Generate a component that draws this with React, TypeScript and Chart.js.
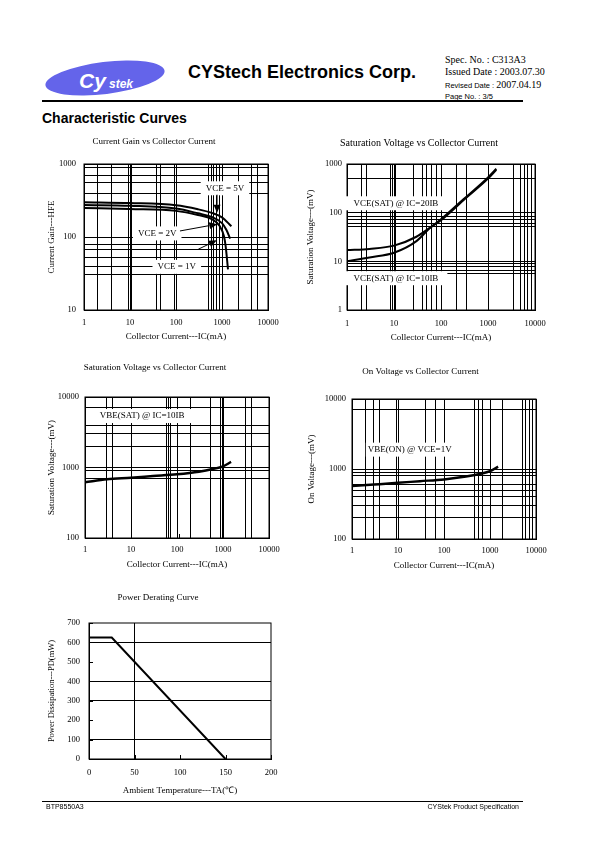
import React, { useEffect, useRef } from "react";
import { Chart, registerables } from "chart.js";

Chart.register(...registerables);

const SERIF = '"Liberation Serif", "Times New Roman", serif';
const SANS = '"Liberation Sans", Arial, sans-serif';

// ---------- Chart 1: Current gain vs collector current ----------
const gainIc5V = [1, 10, 100, 300, 600, 1000, 1600];
const gainHfe5V = [300, 292, 272, 240, 214, 186, 140];
const gainIc2V = [1, 10, 100, 300, 600, 1000, 1250, 1500];
const gainHfe2V = [275, 268, 245, 211, 188, 155, 125, 95];
const gainIc1V = [1, 10, 100, 300, 600, 900, 1100, 1200, 1350];
const gainHfe1V = [250, 242, 228, 200, 176, 140, 103, 75, 36];
const gainXTicks = [1, 10, 100, 1000, 10000];
const gainYTicks = [10, 100, 1000];
const gainXGrid = [2, 4, 9.3, 10.7, 37, 47, 95, 500, 590, 670, 770, 900, 2300, 4300, 5800];
const gainYGrid = [31, 40, 52, 68, 80, 400, 550, 700, 900];
const gainNoteText = ["VCE = 5V", "VCE = 2V", "VCE = 1V"];
const gainNoteX = [1160, 39, 104];
const gainNoteY = [465, 112, 39];
const gainArrowFromX = [780, 122, 305];
const gainArrowFromY = [380, 121, 68];
const gainArrowToX = [780, 790, 770];
const gainArrowToY = [215, 150, 90];

// ---------- Chart 2: VCE(SAT) vs collector current ----------
const vceIc = [1, 3, 10, 30, 60, 100, 300, 1000, 1500];
const vce20IB = [17, 18, 21, 32, 50, 70, 180, 500, 760];
const vce10IB = [10, 12, 15, 26, 50, 73, 188, 530, 800];
const vceXTicks = [1, 10, 100, 1000, 10000];
const vceYTicks = [1, 10, 100, 1000];
const vceXGrid = [2, 2.6, 8.5, 9.5, 11, 26, 40, 50, 63, 80, 210, 350, 3500, 5000, 6000, 7000, 8500];
const vceYGrid = [5.5, 6.5, 8, 9, 52, 60, 72, 85, 500];
const vceNoteText = ["VCE(SAT) @ IC=20IB", "VCE(SAT) @ IC=10IB"];
const vceNoteX = [11, 11];
const vceNoteY = [156, 4.5];

// ---------- Chart 3: VBE(SAT) vs collector current ----------
const vbeIc = [1, 3, 10, 30, 100, 300, 600, 1000, 1500];
const vbeSat = [620, 680, 715, 755, 800, 870, 950, 1040, 1200];
const vbeXTicks = [1, 10, 100, 1000, 10000];
const vbeYTicks = [100, 1000, 10000];
const vbeXGrid = [3, 4, 10.2, 58, 64, 72, 200, 530, 900, 980, 3100, 4200];
const vbeYGrid = [700, 910, 2000, 3000, 4000, 7000];
const vbeNoteText = ["VBE(SAT) @ IC=10IB"];
const vbeNoteX = [17.5];
const vbeNoteY = [5370];

// ---------- Chart 4: VBE(ON) vs collector current ----------
const onIc = [1, 3, 10, 30, 100, 300, 600, 1000, 1500];
const onVbe = [570, 600, 635, 670, 710, 780, 850, 930, 1080];
const onXTicks = [1, 10, 100, 1000, 10000];
const onYTicks = [100, 1000, 10000];
const onXGrid = [2, 3, 4, 9.2, 40, 64, 450, 550, 680, 1900, 5000, 6000, 7200, 8600];
const onYGrid = [200, 300, 400, 500, 600, 820, 900, 7000];
const onNoteText = ["VBE(ON) @ VCE=1V"];
const onNoteX = [18];
const onNoteY = [1890];

// ---------- Chart 5: Power derating ----------
const derTemp = [0, 25, 150];
const derPower = [625, 625, 0];
const derXTicks = [0, 50, 100, 150, 200];
const derYTicks = [0, 100, 200, 300, 400, 500, 600, 700];
const derXGrid = [50];
const derYGrid = [100, 300, 400, 600];

// ---------------------------------------------------------------
const pts = (xs: number[], ys: number[]) => xs.map((x, i) => ({ x, y: ys[i] }));
const notes = (t: string[], x: number[], y: number[]) => t.map((text, i) => ({ text, x: x[i], y: y[i] }));
const arrows = (fx: number[], fy: number[], tx: number[], ty: number[]) =>
  fx.map((_, i) => ({ fx: fx[i], fy: fy[i], tx: tx[i], ty: ty[i] }));

const notesPlugin = {
  id: "notes",
  afterDatasetsDraw(chart: any, _args: any, opts: any) {
    const { ctx, chartArea: a, scales } = chart;
    const xs = scales.x;
    const ys = scales.y;
    ctx.save();
    ctx.strokeStyle = "#000";
    ctx.fillStyle = "#000";
    ctx.lineWidth = 1;
    ctx.strokeRect(a.left, a.top, a.right - a.left, a.bottom - a.top);
    for (const v of opts.innerX || []) {
      const px = Math.round(xs.getPixelForValue(v)) + 0.5;
      ctx.beginPath();
      ctx.moveTo(px, a.bottom);
      ctx.lineTo(px, a.bottom - 4);
      ctx.stroke();
    }
    for (const v of opts.innerY || []) {
      const py = Math.round(ys.getPixelForValue(v)) + 0.5;
      ctx.beginPath();
      ctx.moveTo(a.left, py);
      ctx.lineTo(a.left + 4, py);
      ctx.stroke();
    }
    ctx.font = `9px ${SERIF}`;
    ctx.textAlign = "center";
    ctx.textBaseline = "middle";
    for (const n of opts.labels || []) {
      const px = xs.getPixelForValue(n.x);
      const py = ys.getPixelForValue(n.y);
      const w = ctx.measureText(n.text).width + 2 * (opts.padX ?? 4);
      ctx.fillStyle = "#fff";
      ctx.fillRect(px - w / 2, py - 7, w, 14);
      ctx.fillStyle = "#000";
      ctx.fillText(n.text, px, py);
    }
    for (const ar of opts.arrows || []) {
      const x1 = xs.getPixelForValue(ar.fx);
      const y1 = ys.getPixelForValue(ar.fy);
      const x2 = xs.getPixelForValue(ar.tx);
      const y2 = ys.getPixelForValue(ar.ty);
      const ang = Math.atan2(y2 - y1, x2 - x1);
      const L = 8;
      const W = 3.5;
      const bx = x2 - L * Math.cos(ang);
      const by = y2 - L * Math.sin(ang);
      ctx.beginPath();
      ctx.moveTo(x1, y1);
      ctx.lineTo(bx, by);
      ctx.lineWidth = 1;
      ctx.stroke();
      ctx.beginPath();
      ctx.moveTo(x2, y2);
      ctx.lineTo(bx + W * Math.sin(ang), by - W * Math.cos(ang));
      ctx.lineTo(bx - W * Math.sin(ang), by + W * Math.cos(ang));
      ctx.closePath();
      ctx.fill();
    }
    ctx.restore();
  },
};

interface Box {
  left: number; top: number; width: number; height: number;
  plotL: number; plotR: number; plotT: number; plotB: number;
  titleY: number; titleSize: number; xTitleY: number; yTitleX: number; yTitleSize: number;
  xTickPad: number; yTickPad: number;
}

const box1: Box = { left: 40, top: 128, width: 262, height: 222, plotL: 84, plotR: 268, plotT: 164, plotB: 310, titleY: 142, titleSize: 9, xTitleY: 337, yTitleX: 52, yTitleSize: 9, xTickPad: 8, yTickPad: 8 };
const box2: Box = { left: 303, top: 128, width: 262, height: 222, plotL: 347, plotR: 535, plotT: 164, plotB: 310, titleY: 143, titleSize: 10, xTitleY: 338, yTitleX: 311, yTitleSize: 9, xTickPad: 9, yTickPad: 5 };
const box3: Box = { left: 41, top: 354, width: 270, height: 224, plotL: 85, plotR: 269, plotT: 397, plotB: 538, titleY: 368, titleSize: 9, xTitleY: 565, yTitleX: 52, yTitleSize: 9, xTickPad: 7, yTickPad: 6 };
const box4: Box = { left: 305, top: 358, width: 258, height: 221, plotL: 352, plotR: 536, plotT: 399, plotB: 539, titleY: 372, titleSize: 9, xTitleY: 566, yTitleX: 312, yTitleSize: 9, xTickPad: 7, yTickPad: 6 };
const box5: Box = { left: 45, top: 584, width: 244, height: 220, plotL: 89, plotR: 271, plotT: 623, plotB: 759, titleY: 598, titleSize: 9, xTitleY: 791, yTitleX: 52, yTitleSize: 8.5, xTickPad: 9, yTickPad: 9 };

const tickFont = { family: SERIF, size: 8.5 };

function axisBase(b: Box, horizontal: boolean, titleText: string) {
  const lh = (horizontal ? 9 : b.yTitleSize) * 1.2;
  const xH = b.top + b.height - b.plotB;
  const yW = b.plotL - b.left;
  return {
    grid: { drawTicks: false, lineWidth: 1 },
    border: { display: true, color: "#000", width: 1 },
    afterFit: (s: any) => {
      if (horizontal) s.height = xH;
      else s.width = yW;
    },
    title: {
      display: true,
      text: titleText,
      color: "#000",
      font: { family: SERIF, size: horizontal ? 9 : b.yTitleSize, lineHeight: 1.2 },
      padding: horizontal
        ? { top: 0, bottom: Math.max(0, b.top + b.height - b.xTitleY - lh / 2) }
        : { top: Math.max(0, b.yTitleX - b.left - lh / 2), bottom: 0 },
    },
  };
}

function logAxis(b: Box, horizontal: boolean, titleText: string, min: number, max: number, labels: number[], grid: number[]) {
  const base: any = axisBase(b, horizontal, titleText);
  const all = Array.from(new Set([...labels, ...grid])).sort((p, q) => p - q);
  return {
    ...base,
    type: "logarithmic",
    position: horizontal ? "bottom" : "left",
    min,
    max,
    afterBuildTicks: (s: any) => {
      s.ticks = all.map((v) => ({ value: v, major: labels.includes(v) }));
    },
    grid: { ...base.grid, color: "#000" },
    ticks: {
      autoSkip: false,
      maxRotation: 0,
      minRotation: 0,
      color: "#000",
      font: tickFont,
      padding: horizontal ? b.xTickPad : b.yTickPad,
      callback: (v: any) => (labels.includes(Number(v)) ? String(v) : ""),
    },
  };
}

function linAxis(b: Box, horizontal: boolean, titleText: string, labels: number[], grid: number[]) {
  const base: any = axisBase(b, horizontal, titleText);
  return {
    ...base,
    type: "linear",
    position: horizontal ? "bottom" : "left",
    min: labels[0],
    max: labels[labels.length - 1],
    afterBuildTicks: (s: any) => {
      s.ticks = labels.map((v) => ({ value: v }));
    },
    grid: {
      ...base.grid,
      color: (c: any) => (c.tick && grid.includes(c.tick.value) ? "#000" : "rgba(0,0,0,0)"),
    },
    ticks: {
      autoSkip: false,
      maxRotation: 0,
      color: "#000",
      font: tickFont,
      padding: horizontal ? b.xTickPad : b.yTickPad,
      callback: (v: any) => String(v),
    },
  };
}

function baseOptions(b: Box, title: string, x: any, y: any, noteOpts: any) {
  const lh = b.titleSize * 1.2;
  const padTop = b.titleY - b.top - lh / 2;
  const padBottom = b.plotT - b.top - padTop - lh;
  return {
    responsive: false,
    maintainAspectRatio: false,
    animation: false,
    events: [],
    layout: { padding: { left: 0, top: 0, bottom: 0, right: b.left + b.width - b.plotR } },
    elements: { point: { radius: 0 } },
    plugins: {
      legend: { display: false },
      tooltip: { enabled: false },
      title: {
        display: true,
        text: title,
        color: "#000",
        font: { family: SERIF, size: b.titleSize, weight: "normal", lineHeight: 1.2 },
        padding: { top: padTop, bottom: padBottom },
      },
      notes: noteOpts,
    },
    scales: { x, y },
  };
}

const line = (data: any[], width = 2) => ({
  data,
  borderColor: "#000",
  borderWidth: width,
  pointRadius: 0,
  fill: false,
  cubicInterpolationMode: "monotone",
});

function buildConfigs() {
  const c1 = {
    type: "line",
    data: {
      datasets: [
        line(pts(gainIc5V, gainHfe5V)),
        line(pts(gainIc2V, gainHfe2V)),
        line(pts(gainIc1V, gainHfe1V)),
      ],
    },
    options: baseOptions(
      box1,
      "Current Gain vs Collector Current",
      logAxis(box1, true, "Collector Current---IC(mA)", 1, 10000, gainXTicks, gainXGrid),
      logAxis(box1, false, "Current Gain---HFE", 10, 1000, gainYTicks, gainYGrid),
      {
        labels: notes(gainNoteText, gainNoteX, gainNoteY),
        arrows: arrows(gainArrowFromX, gainArrowFromY, gainArrowToX, gainArrowToY),
        padX: 5,
      }
    ),
    plugins: [notesPlugin],
  };
  const c2 = {
    type: "line",
    data: { datasets: [line(pts(vceIc, vce20IB)), line(pts(vceIc, vce10IB))] },
    options: baseOptions(
      box2,
      "Saturation Voltage vs Collector Current",
      logAxis(box2, true, "Collector Current---IC(mA)", 1, 10000, vceXTicks, vceXGrid),
      logAxis(box2, false, "Saturation Voltage---(mV)", 1, 1000, vceYTicks, vceYGrid),
      { labels: notes(vceNoteText, vceNoteX, vceNoteY), padX: 9, innerX: [100] }
    ),
    plugins: [notesPlugin],
  };
  const c3 = {
    type: "line",
    data: { datasets: [line(pts(vbeIc, vbeSat), 2.5)] },
    options: baseOptions(
      box3,
      "Saturation Voltage vs Collector Current",
      logAxis(box3, true, "Collector Current---IC(mA)", 1, 10000, vbeXTicks, vbeXGrid),
      logAxis(box3, false, "Saturation Voltage---(mV)", 100, 10000, vbeYTicks, vbeYGrid),
      { labels: notes(vbeNoteText, vbeNoteX, vbeNoteY), padX: 9, innerX: [110] }
    ),
    plugins: [notesPlugin],
  };
  const c4 = {
    type: "line",
    data: { datasets: [line(pts(onIc, onVbe), 2.5)] },
    options: baseOptions(
      box4,
      "On Voltage vs Collector Current",
      logAxis(box4, true, "Collector Current---IC(mA)", 1, 10000, onXTicks, onXGrid),
      logAxis(box4, false, "On Voltage---(mV)", 100, 10000, onYTicks, onYGrid),
      { labels: notes(onNoteText, onNoteX, onNoteY), padX: 2, innerX: [1000] }
    ),
    plugins: [notesPlugin],
  };
  const c5 = {
    type: "line",
    data: { datasets: [{ ...line(pts(derTemp, derPower)), cubicInterpolationMode: "default", tension: 0 }] },
    options: baseOptions(
      box5,
      "Power Derating Curve",
      linAxis(box5, true, "Ambient Temperature---TA(\u2103)", derXTicks, derXGrid),
      linAxis(box5, false, "Power Dissipation---PD(mW)", derYTicks, derYGrid),
      { innerX: derXTicks, innerY: derYTicks }
    ),
    plugins: [notesPlugin],
  };
  return [c1, c2, c3, c4, c5];
}

function ChartCanvas({ box, config }: { box: Box; config: any }) {
  const ref = useRef<HTMLCanvasElement | null>(null);
  useEffect(() => {
    if (!ref.current) return;
    const chart = new Chart(ref.current, config);
    return () => chart.destroy();
  }, [config]);
  return (
    <canvas
      ref={ref}
      width={box.width}
      height={box.height}
      style={{ position: "absolute", left: box.left, top: box.top, width: box.width, height: box.height }}
    />
  );
}

const configs = buildConfigs();
const boxes = [box1, box2, box3, box4, box5];

function Txt(props: { left?: number; right?: number; top: number; size: number; family: string; bold?: boolean; children: React.ReactNode }) {
  const { left, right, top, size, family, bold, children } = props;
  return (
    <div
      style={{
        position: "absolute",
        left,
        right,
        top,
        fontSize: size,
        fontFamily: family,
        fontWeight: bold ? "bold" : "normal",
        lineHeight: 1,
        whiteSpace: "nowrap",
        color: "#000",
      }}
    >
      {children}
    </div>
  );
}

export default function App() {
  return (
    <div style={{ position: "absolute", left: 0, top: 0, width: 595, height: 842, background: "#fff", overflow: "hidden" }}>
      <svg style={{ position: "absolute", left: 43, top: 56 }} width={126} height={44}>
        <ellipse cx={62} cy={22} rx={60} ry={16} fill="#6464ea" transform="rotate(-7 62 22)" />
        <text x={36} y={32} fill="#fff" fontFamily={SANS} fontWeight="bold" fontStyle="italic" fontSize={21}>
          Cy
        </text>
        <text x={66} y={32} fill="#fff" fontFamily={SANS} fontWeight="bold" fontStyle="italic" fontSize={12}>
          stek
        </text>
      </svg>
      <Txt left={188} top={63} size={18} family={SANS} bold>
        CYStech Electronics Corp.
      </Txt>
      <Txt left={445} top={55} size={10} family={SERIF}>Spec. No. : C313A3</Txt>
      <Txt left={445} top={67} size={10} family={SERIF}>Issued Date : 2003.07.30</Txt>
      <Txt left={445} top={80} size={10} family={SERIF}>
        <span style={{ fontFamily: SANS, fontSize: 7.5 }}>Revised Date : </span>2007.04.19
      </Txt>
      <Txt left={445} top={93} size={7.5} family={SANS}>Page No. : 3/5</Txt>
      <div style={{ position: "absolute", left: 42, top: 100, width: 481, height: 1.5, background: "#000" }} />
      <Txt left={42} top={111} size={14} family={SANS} bold>
        Characteristic Curves
      </Txt>
      {configs.map((c, i) => (
        <ChartCanvas key={i} box={boxes[i]} config={c} />
      ))}
      <div style={{ position: "absolute", left: 42, top: 801, width: 481, height: 1, background: "#000" }} />
      <Txt left={46} top={803} size={7} family={SANS}>BTP8550A3</Txt>
      <Txt right={76} top={803} size={7} family={SANS}>CYStek Product Specification</Txt>
    </div>
  );
}
